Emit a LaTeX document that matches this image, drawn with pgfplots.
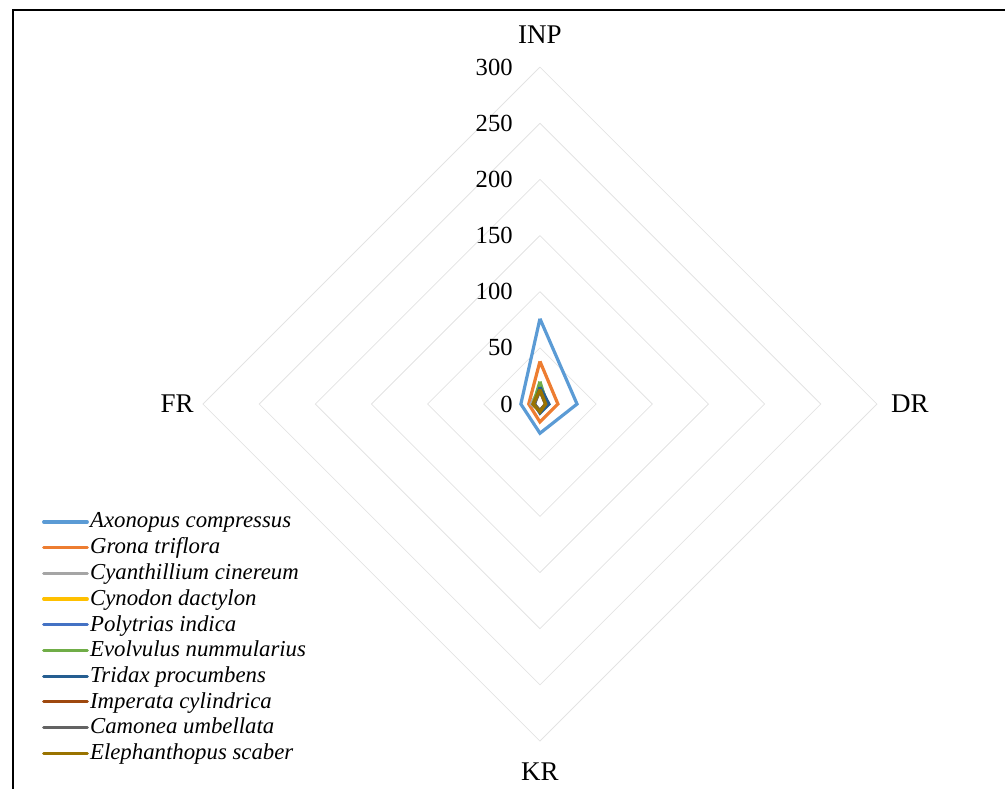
\documentclass[border=0pt]{standalone}
\usepackage{pgfplots}
\pgfplotsset{compat=1.18}
\usepackage{fontspec}
\setmainfont{Liberation Serif}
\definecolor{cA}{HTML}{5B9BD5}
\definecolor{cB}{HTML}{ED7D31}
\definecolor{cC}{HTML}{A5A5A5}
\definecolor{cD}{HTML}{FFC000}
\definecolor{cE}{HTML}{4472C4}
\definecolor{cF}{HTML}{70AD47}
\definecolor{cG}{HTML}{255E91}
\definecolor{cH}{HTML}{9E480E}
\definecolor{cI}{HTML}{636363}
\definecolor{cJ}{HTML}{997300}
\definecolor{gridc}{HTML}{E3E3E3}
\begin{document}
\begin{tikzpicture}
\begin{axis}[
  scale only axis,
  width=502.5pt, height=394.5pt,
  xmin=-480.7, xmax=414.0,
  ymin=-342.7, ymax=359.7,
  hide axis, clip=false,
  legend style={draw=none, fill=none, at={(axis cs:-443.6,-93)}, anchor=north west,
    font=\fontsize{11.4}{13}\selectfont\itshape, row sep=-0.55pt, inner sep=0pt,
    /tikz/every even column/.append style={column sep=0pt}},
  legend cell align=left,
  legend image code/.code={\draw[#1, line cap=round] (-0.4pt,0pt) -- (20pt,0pt); \draw[#1, line cap=round, overlay] (20pt,0pt) -- (21.4pt,0pt);},
  every axis plot/.append style={line width=1.6pt, line join=miter},
]
% diamond grid
\foreach \r in {50,100,150,200,250,300}{
  \edef\tmp{\noexpand\addplot[gridc, line width=0.4pt, forget plot] coordinates {(0,\r) (\r,0) (0,-\r) (-\r,0) (0,\r)};}
  \tmp
}
\addplot[cA] coordinates {(0,76) (33,0) (0,-26) (-17,0) (0,76)};
\addlegendentry{Axonopus compressus}
\addplot[cB] coordinates {(0,38) (16,0) (0,-16) (-10,0) (0,38)};
\addlegendentry{Grona triflora}
\addplot[cC] coordinates {(0,14) (6,0) (0,-6) (-8,0) (0,14)};
\addlegendentry{Cyanthillium cinereum}
\addplot[cD] coordinates {(0,16) (7,0) (0,-7) (-6,0) (0,16)};
\addlegendentry{Cynodon dactylon}
\addplot[cE] coordinates {(0,18) (7,0) (0,-7) (-5,0) (0,18)};
\addlegendentry{Polytrias indica}
\addplot[cF] coordinates {(0,20) (6,0) (0,-6) (-6,0) (0,20)};
\addlegendentry{Evolvulus nummularius}
\addplot[cG] coordinates {(0,15) (8,0) (0,-8) (-5,0) (0,15)};
\addlegendentry{Tridax procumbens}
\addplot[cH] coordinates {(0,12) (5,0) (0,-6) (-6,0) (0,12)};
\addlegendentry{Imperata cylindrica}
\addplot[cI] coordinates {(0,12) (5,0) (0,-6) (-5,0) (0,12)};
\addlegendentry{Camonea umbellata}
\addplot[cJ] coordinates {(0,13) (5,0) (0,-7) (-6,0) (0,13)};
\addlegendentry{Elephanthopus scaber}
% tick labels
\foreach \r in {0,50,100,150,200,250,300}{
  \edef\tmp{\noexpand\node[anchor=east, inner sep=0pt, font=\noexpand\fontsize{12.3}{14}\noexpand\selectfont] at (axis cs:-24,\r) {\r};}
  \tmp
}
% category labels
\node[font=\fontsize{13.5}{15}\selectfont] at (axis cs:0,328.5) {INP};
\node[font=\fontsize{13.5}{15}\selectfont] at (axis cs:329.4,0) {DR};
\node[font=\fontsize{13.5}{15}\selectfont] at (axis cs:0,-327.6) {KR};
\node[font=\fontsize{13.5}{15}\selectfont] at (axis cs:-323,0) {FR};
% frame (partly cropped in the reference)
\draw[black, line width=1pt] (axis cs:-469.2,-342.7) -- (axis cs:-469.2,350.8) -- (axis cs:414,350.8);
\end{axis}
\pgfresetboundingbox
\useasboundingbox (current axis.south west) rectangle (current axis.north east);
\end{tikzpicture}
\end{document}
